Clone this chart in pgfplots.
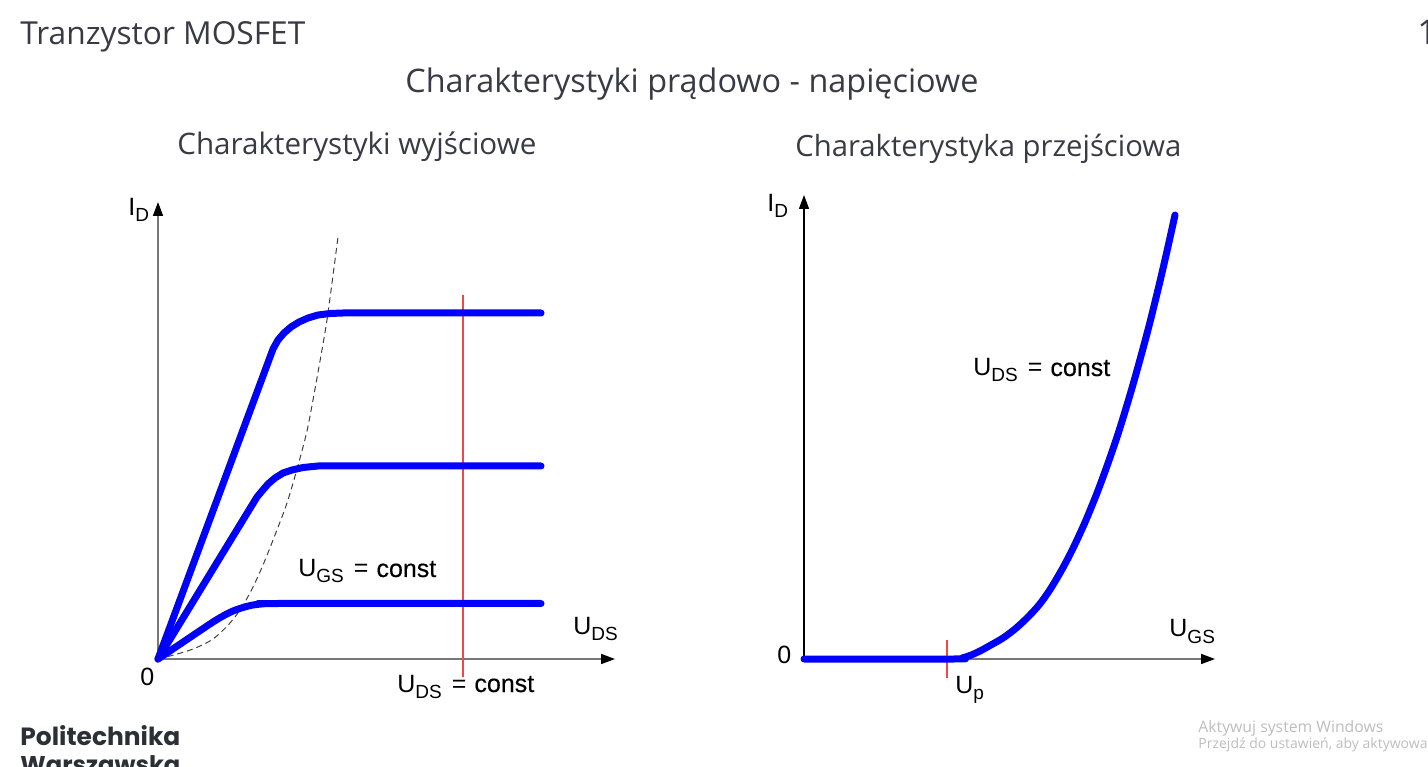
\documentclass[border=0pt]{standalone}
\usepackage{pgfplots}
\pgfplotsset{compat=1.18}
\usepackage{graphicx}
\usepackage{fontspec}
\usetikzlibrary{arrows.meta}
\setmainfont{Liberation Sans}
\newfontfamily\tfont{Open Sans}
\newfontfamily\pfont{Poppins}
\newfontfamily\bfont[FakeBold=0.35]{Liberation Sans}
\definecolor{ttl}{HTML}{3A3A44}
\definecolor{wm}{HTML}{BDBDBD}
\definecolor{axg}{HTML}{777777}
\definecolor{rl}{HTML}{F04848}
\newcommand{\lab}[2]{{\fontsize{12.5bp}{14bp}\selectfont #1\raisebox{-3bp}{\fontsize{9.5bp}{10bp}\selectfont #2}}}
\newcommand{\eqc}{\hspace{5bp}{\fontsize{12.5bp}{14bp}\selectfont =\hspace{4bp}\bfont const}}
\begin{document}
\begin{tikzpicture}[x=0.5bp,y=0.5bp]
\path[use as bounding box] (0,0) rectangle (1428,766);
% texts
\node[anchor=base west,inner sep=0pt,text=ttl] at (20,721) {\resizebox{142.5bp}{!}{\tfont Tranzystor MOSFET}};
\node[anchor=base west,inner sep=0pt,text=ttl] at (1417,721) {\fontsize{17bp}{20bp}\selectfont\tfont 1};
\node[anchor=base west,inner sep=0pt,text=ttl] at (405,673) {\resizebox{286.5bp}{!}{\tfont Charakterystyki prądowo - napięciowe}};
\node[anchor=base west,inner sep=0pt,text=ttl] at (177,611) {\resizebox{179.5bp}{!}{\tfont Charakterystyki wyjściowe}};
\node[anchor=base west,inner sep=0pt,text=ttl] at (795,609) {\resizebox{193bp}{!}{\tfont Charakterystyka przejściowa}};
\node[anchor=base west,inner sep=0pt,text=ttl!80!black] at (20,21) {\resizebox{80bp}{!}{\pfont\bfseries Politechnika}};
\node[anchor=base west,inner sep=0pt,text=ttl!80!black] at (20,-7) {\resizebox{80bp}{!}{\pfont\bfseries Warszawska}};
\node[anchor=base west,inner sep=0pt,text=wm] at (1198,33) {\resizebox{92.5bp}{!}{\tfont Aktywuj system Windows}};
\node[anchor=base west,inner sep=0pt,text=wm] at (1198,18) {\fontsize{7bp}{8bp}\selectfont\tfont Przejdź do ustawień, aby aktywować system Windows.};
% left axis
\begin{axis}[at={(158,107)},anchor=south west,x=0.5bp,y=0.5bp,
  xmin=0,xmax=457,ymin=0,ymax=457,axis lines=left,xtick=\empty,ytick=\empty,clip=false,
  axis line style={axg,line width=0.8bp,-{Triangle[length=7bp,width=5bp,color=black]}}]
\addplot[rl,line width=0.6bp] coordinates {(305,364) (305,-18)};
\addplot[black!75,line width=0.5bp,dash pattern=on 3bp off 2bp,smooth] coordinates {
(0,0)(12,3)(35,10)(55,20)(72,36)(84,52)(95,72)(105,94)(117,124)(129,156)(139,190)(149,228)(157,270)(165,315)(170,346)(180,422)};
\addplot[blue,line width=3.5bp,line join=round,line cap=round] coordinates {
(0,0)(115,310)(120,319)(126,326)(133,332)(141,337)(150,341)(160,344)(172,345.5)(185,346)(383,346)};
\addplot[blue,line width=3.5bp,line join=round,line cap=round] coordinates {
(0,0)(99,162)(104,168)(110,175)(117,181)(125,186)(134,189)(145,191.5)(160,193)(383,193)};
\addplot[blue,line width=3.5bp,line join=round,line cap=round,smooth] coordinates {
(0,0)(40,27)(55,37)(65,43)(75,48)(85,51.5)(95,54)(107,55.3)(120,55.5)(383,55.5)};
\end{axis}
% right axis
\begin{axis}[at={(804,107)},anchor=south west,x=0.5bp,y=0.5bp,
  xmin=0,xmax=411,ymin=0,ymax=464,axis lines=left,xtick=\empty,ytick=\empty,clip=false,
  x axis line style={axg,line width=0.8bp,-{Triangle[length=7bp,width=5bp,color=black]}},
  y axis line style={black,line width=0.8bp,-{Triangle[length=7bp,width=5bp,color=black]}}]
\addplot[rl,line width=0.6bp] coordinates {(143,19) (143,-19)};
\addplot[blue,line width=3.5bp,line join=round,line cap=round,smooth] coordinates {
(0,0)(150,0)(158,1)(166,3.5)(176,8)(186,13.5)(199,21)(211,30)(223,41)(235,54)(246,69.4)(258,89.6)(269,110.7)(281,136.7)(293,166)(303,193)(313,222)(321,247.5)(329,274.5)(338,306.8)(346,337)(355,373.6)(363,408)(371,444)};
\end{axis}
% labels
\node[anchor=base west,inner sep=0pt] at (128,550) {\lab{I}{D}};
\node[anchor=base west,inner sep=0pt] at (767,554) {\lab{I}{D}};
\node[anchor=base west,inner sep=0pt] at (298,189) {\lab{U}{GS}\eqc};
\node[anchor=base west,inner sep=0pt] at (397,74) {\lab{U}{DS}\eqc};
\node[anchor=base west,inner sep=0pt] at (973,390) {\lab{U}{DS}\eqc};
\node[anchor=base west,inner sep=0pt] at (573,131) {\lab{U}{DS}};
\node[anchor=base west,inner sep=0pt] at (1169,129) {\lab{U}{GS}};
\node[anchor=base west,inner sep=0pt] at (955,73) {\lab{U}{p}};
\node[anchor=base west,inner sep=0pt] at (140,81) {\fontsize{12.5bp}{14bp}\selectfont 0};
\node[anchor=base west,inner sep=0pt] at (777,103) {\fontsize{12.5bp}{14bp}\selectfont 0};
\end{tikzpicture}
\end{document}
